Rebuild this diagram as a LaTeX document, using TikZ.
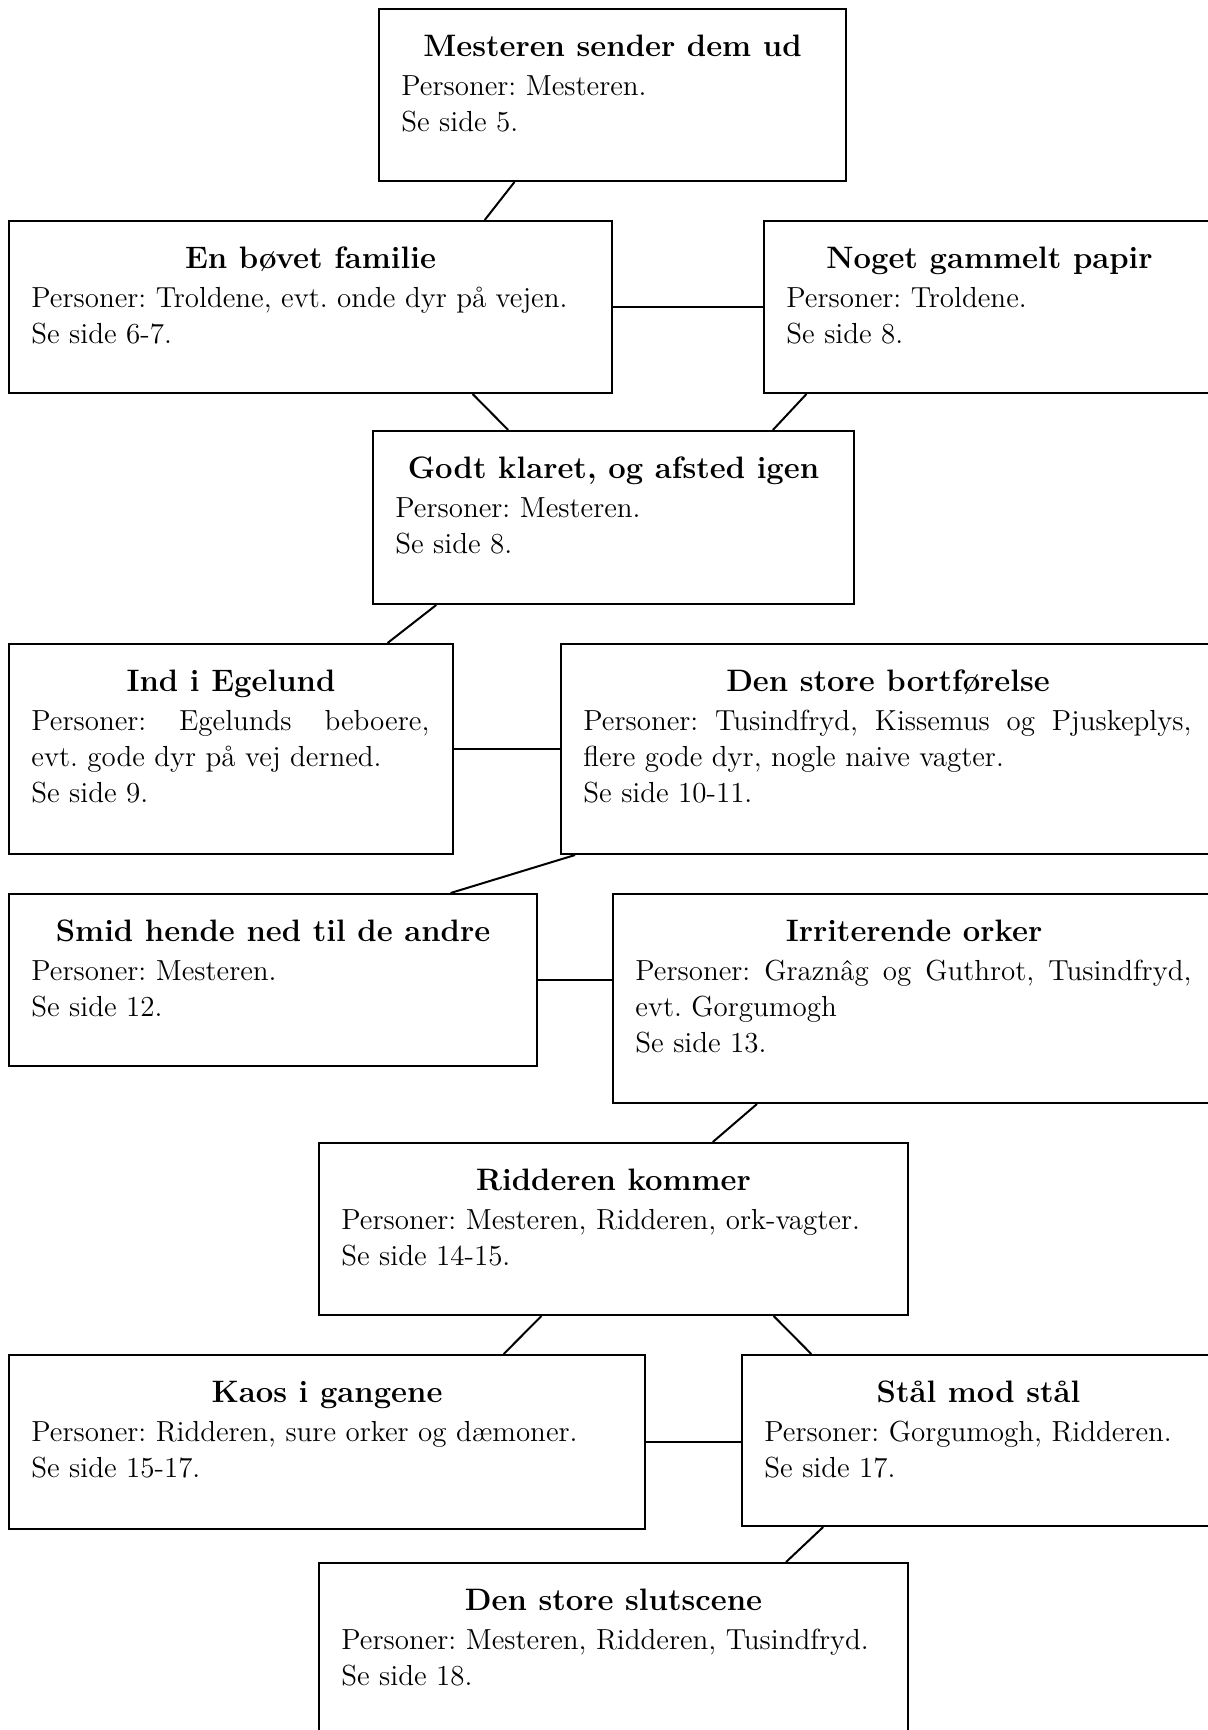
\documentclass[tikz,border=0pt]{standalone}
\usetikzlibrary{calc}
\tikzset{
  scenebox/.style={draw, line width=1pt, anchor=north west, inner sep=0pt},
  scenetitle/.style={anchor=base, inner sep=0pt, font=\fontsize{15.5pt}{18pt}\selectfont\bfseries},
  scenebody/.style={anchor=base west, inner sep=0pt, align=justify, font=\fontsize{14.5pt}{18pt}\selectfont\frenchspacing},
  link/.style={line width=1pt}
}
\begin{document}
\begin{tikzpicture}[x=0.5pt, y=-0.5pt]
\useasboundingbox (0,0) rectangle (1208,1730);
\fill[white] (0,0) rectangle (1208,1730);
\clip (0,0) rectangle (1208,1730);

% boxes
\node[scenebox, minimum width=233.5pt, minimum height=86pt] (b1) at (378,8) {};
\node[scenebox, minimum width=301.5pt, minimum height=86pt] (b2) at (8,220) {};
\node[scenebox, minimum width=225.5pt, minimum height=86pt] (b3) at (763,220) {};
\node[scenebox, minimum width=240.5pt, minimum height=86.5pt] (b4) at (372,430) {};
\node[scenebox, minimum width=222pt, minimum height=105pt] (b5) at (8,643) {};
\node[scenebox, minimum width=327pt, minimum height=105pt] (b6) at (560,643) {};
\node[scenebox, minimum width=264pt, minimum height=86pt] (b7) at (8,893) {};
\node[scenebox, minimum width=301pt, minimum height=104.5pt] (b8) at (612,893) {};
\node[scenebox, minimum width=294.5pt, minimum height=86pt] (b9) at (318,1142) {};
\node[scenebox, minimum width=318pt, minimum height=87pt] (b10) at (8,1354) {};
\node[scenebox, minimum width=236.5pt, minimum height=85.5pt] (b11) at (741,1354) {};
\node[scenebox, minimum width=294.5pt, minimum height=86pt] (b12) at (318,1562) {};

% titles
\node[scenetitle] (t1) at ($(b1.north)+(0,48)$) {Mesteren sender dem ud};
\node[scenetitle] (t2) at ($(b2.north)+(0,48)$) {En bøvet familie};
\node[scenetitle] (t3) at ($(b3.north)+(0,48)$) {Noget gammelt papir};
\node[scenetitle] (t4) at ($(b4.north)+(0,48)$) {Godt klaret, og afsted igen};
\node[scenetitle] (t5) at ($(b5.north)+(0,48)$) {Ind i Egelund};
\node[scenetitle] (t6) at ($(b6.north)+(0,48)$) {Den store bortførelse};
\node[scenetitle] (t7) at ($(b7.north)+(0,48)$) {Smid hende ned til de andre};
\node[scenetitle] (t8) at ($(b8.north)+(0,48)$) {Irriterende orker};
\node[scenetitle] (t9) at ($(b9.north)+(0,48)$) {Ridderen kommer};
\node[scenetitle] (t10) at ($(b10.north)+(0,48)$) {Kaos i gangene};
\node[scenetitle] (t11) at ($(b11.north)+(0,48)$) {Stål mod stål};
\node[scenetitle] (t12) at ($(b12.north)+(0,48)$) {Den store slutscene};

% bodies
\node[scenebody, text width=210pt] (p1) at ($(b1.north west)+(23,87)$) {Personer: Mesteren.\\Se side 5.};
\node[scenebody, text width=278.5pt] (p2) at ($(b2.north west)+(23,87)$) {Personer: Troldene, evt. onde dyr på vejen.\\Se side 6-7.};
\node[scenebody, text width=202.5pt] (p3) at ($(b3.north west)+(23,87)$) {Personer: Troldene.\\Se side 8.};
\node[scenebody, text width=217.5pt] (p4) at ($(b4.north west)+(23,87)$) {Personer: Mesteren.\\Se side 8.};
\node[scenebody, text width=199pt] (p5) at ($(b5.north west)+(23,87)$) {Personer: Egelunds beboere,\linebreak evt. gode dyr på vej derned.\\Se side 9.};
\node[scenebody, text width=304pt] (p6) at ($(b6.north west)+(23,87)$) {Personer: Tusindfryd, Kissemus og Pjuskeplys,\linebreak flere gode dyr, nogle naive vagter.\\Se side 10-11.};
\node[scenebody, text width=241pt] (p7) at ($(b7.north west)+(23,87)$) {Personer: Mesteren.\\Se side 12.};
\node[scenebody, text width=278pt] (p8) at ($(b8.north west)+(23,87)$) {Personer: Graznâg og Guthrot, Tusindfryd,\linebreak evt. Gorgumogh\\Se side 13.};
\node[scenebody, text width=285pt] (p9) at ($(b9.north west)+(23,87)$) {Personer: Mesteren, Ridderen, ork-vagter.\\Se side 14-15.};
\node[scenebody, text width=305pt] (p10) at ($(b10.north west)+(23,87)$) {Personer: Ridderen, sure orker og dæmoner.\\Se side 15-17.};
\node[scenebody, text width=230pt] (p11) at ($(b11.north west)+(23,87)$) {Personer: Gorgumogh, Ridderen.\\Se side 17.};
\node[scenebody, text width=285pt] (p12) at ($(b12.north west)+(23,87)$) {Personer: Mesteren, Ridderen, Tusindfryd.\\Se side 18.};

% connectors
\draw[link] ($(b1.south west)!0.291!(b1.south east)$) -- ($(b2.north west)!0.788!(b2.north east)$);
\draw[link] (b2.east) -- (b3.west);
\draw[link] ($(b2.south west)!0.768!(b2.south east)$) -- ($(b4.north west)!0.282!(b4.north east)$);
\draw[link] ($(b3.south west)!0.096!(b3.south east)$) -- ($(b4.north west)!0.830!(b4.north east)$);
\draw[link] ($(b4.south west)!0.133!(b4.south east)$) -- ($(b5.north west)!0.851!(b5.north east)$);
\draw[link] (b5.east) -- (b6.west);
\draw[link] ($(b6.south west)!0.023!(b6.south east)$) -- ($(b7.north west)!0.835!(b7.north east)$);
\draw[link] (b7.east) -- (b7.east -| b8.west);
\draw[link] ($(b8.south west)!0.240!(b8.south east)$) -- ($(b9.north west)!0.668!(b9.north east)$);
\draw[link] ($(b9.south west)!0.378!(b9.south east)$) -- ($(b10.north west)!0.777!(b10.north east)$);
\draw[link] ($(b9.south west)!0.771!(b9.south east)$) -- ($(b11.north west)!0.148!(b11.north east)$);
\draw[link] (b10.east) -- (b10.east -| b11.west);
\draw[link] ($(b11.south west)!0.173!(b11.south east)$) -- ($(b12.north west)!0.792!(b12.north east)$);
\end{tikzpicture}
\end{document}
